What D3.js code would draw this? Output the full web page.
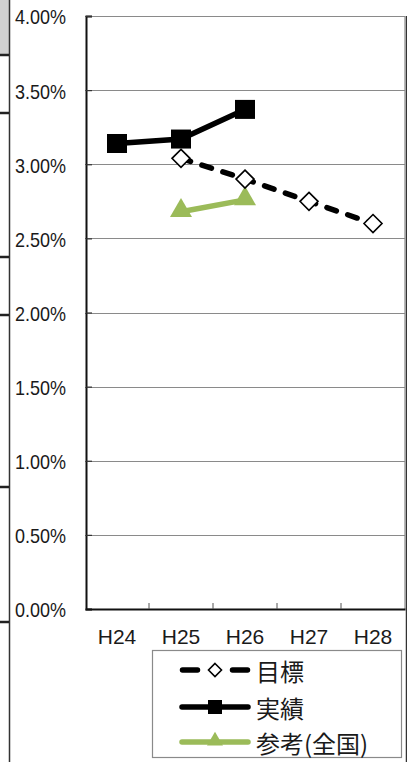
<!DOCTYPE html>
<html>
<head>
<meta charset="utf-8">
<script src="https://cdn.jsdelivr.net/npm/d3@7/dist/d3.min.js"></script>
<style>
  html, body { margin: 0; padding: 0; background: #fff; }
  svg { display: block; }
</style>
</head>
<body>
<script>
// Fiscal years (Heisei) on the horizontal axis
const categories = ["H24", "H25", "H26", "H27", "H28"];
// Target rate (目標), H25–H28
const targetYears = ["H25", "H26", "H27", "H28"];
const targetValues = [0.0304, 0.0290, 0.0275, 0.0260];
// Actual rate (実績), H24–H26
const actualYears = ["H24", "H25", "H26"];
const actualValues = [0.0314, 0.0317, 0.0337];
// National reference (参考(全国)), H25–H26
const nationalYears = ["H25", "H26"];
const nationalValues = [0.0268, 0.0276];
// Y axis ticks
const yTicks = [0, 0.005, 0.01, 0.015, 0.02, 0.025, 0.03, 0.035, 0.04];

const W = 407, H = 762;
const green = "#9bbb59";
const latin = "'Liberation Sans', Arial, sans-serif";
const cjk = "'Noto Sans CJK JP', 'Noto Sans CJK SC', sans-serif";

const svg = d3.select("body").append("svg").attr("width", W).attr("height", H);

const x = d3.scaleBand().domain(categories).range([85, 405]);
const y = d3.scaleLinear().domain([0, 0.04]).range([609, 16]);
const cx = d => x(d) + x.bandwidth() / 2;

// Frame of the surrounding table column on the left
svg.append("rect").attr("x", 0).attr("y", 0).attr("width", 9).attr("height", 54).attr("fill", "#d0d0d0");
svg.append("line").attr("x1", 9.5).attr("x2", 9.5).attr("y1", 0).attr("y2", H)
  .attr("stroke", "#333").attr("stroke-width", 1.5);
[55, 113, 257, 315, 487, 622].forEach(yy => {
  svg.append("line").attr("x1", 0).attr("x2", 9).attr("y1", yy).attr("y2", yy)
    .attr("stroke", "#222").attr("stroke-width", 2.5);
});
svg.append("line").attr("x1", 406.5).attr("x2", 406.5).attr("y1", 16).attr("y2", H)
  .attr("stroke", "#333").attr("stroke-width", 1.5);

// Gridlines
svg.append("g").selectAll("line").data(yTicks.filter(v => v > 0)).join("line")
  .attr("x1", 85).attr("x2", 405)
  .attr("y1", d => Math.round(y(d)) + 0.5).attr("y2", d => Math.round(y(d)) + 0.5)
  .attr("stroke", "#8a8a8a").attr("stroke-width", 1.2);

// Right plot border
svg.append("line").attr("x1", 405).attr("x2", 405).attr("y1", 16).attr("y2", 609)
  .attr("stroke", "#8a8a8a").attr("stroke-width", 1.2);

// Y axis
const yAxis = svg.append("g").attr("transform", "translate(86,0)")
  .call(d3.axisLeft(y).tickValues(yTicks).tickSize(-6).tickFormat(""));
yAxis.select(".domain").attr("stroke", "#111").attr("stroke-width", 2);
yAxis.selectAll(".tick line").attr("stroke", "#333").attr("stroke-width", 1.2);

// Y labels, slightly condensed
svg.append("g").attr("transform", "translate(66,0) scale(0.9,1)")
  .selectAll("text").data(yTicks).join("text")
  .attr("x", 0).attr("y", d => y(d) + 8.5)
  .attr("text-anchor", "end")
  .attr("font-family", latin).attr("font-size", 20).attr("fill", "#1a1a1a")
  .text(d => d3.format(".2%")(d));

// X axis with ticks between categories
const xAxis = svg.append("g").attr("transform", "translate(0,609)")
  .call(d3.axisBottom(x).tickSize(0).tickFormat(""));
xAxis.select(".domain").attr("stroke", "#111").attr("stroke-width", 2);
svg.append("g").selectAll("line").data(categories.slice(1)).join("line")
  .attr("x1", d => x(d)).attr("x2", d => x(d))
  .attr("y1", 609).attr("y2", 603)
  .attr("stroke", "#555").attr("stroke-width", 1);

svg.append("g").selectAll("text").data(categories).join("text")
  .attr("x", d => cx(d)).attr("y", 644)
  .attr("text-anchor", "middle")
  .attr("font-family", latin).attr("font-size", 21).attr("fill", "#1a1a1a")
  .text(d => d);

const line = d3.line().x(d => cx(d[0])).y(d => y(d[1]));

// National reference series (green, triangles)
const nat = d3.zip(nationalYears, nationalValues);
svg.append("path").attr("d", line(nat)).attr("fill", "none")
  .attr("stroke", green).attr("stroke-width", 5.5);

const tri = d3.symbol().type(d3.symbolTriangle).size(210);
svg.append("g").selectAll("path").data(nat).join("path")
  .attr("d", tri)
  .attr("transform", d => `translate(${cx(d[0])},${y(d[1]) - 1})`)
  .attr("fill", green);

// Target series (dashed, open diamonds)
const tgt = d3.zip(targetYears, targetValues);
svg.append("path").attr("d", line(tgt)).attr("fill", "none")
  .attr("stroke", "#000").attr("stroke-width", 5.5)
  .attr("stroke-dasharray", "10,12").attr("stroke-linecap", "round");

// Actual series (solid, filled squares)
const act = d3.zip(actualYears, actualValues);
svg.append("path").attr("d", line(act)).attr("fill", "none")
  .attr("stroke", "#000").attr("stroke-width", 5.5);

svg.append("g").selectAll("path").data(tgt).join("path")
  .attr("d", "M0,-9L9,0L0,9L-9,0Z")
  .attr("transform", d => `translate(${cx(d[0])},${y(d[1])})`)
  .attr("fill", "#fff").attr("stroke", "#000").attr("stroke-width", 1.6);

svg.append("g").selectAll("rect").data(act).join("rect")
  .attr("x", d => cx(d[0]) - 10).attr("y", d => y(d[1]) - 9.5)
  .attr("width", 20).attr("height", 19)
  .attr("fill", "#000");

// Legend
const lg = svg.append("g");
lg.append("rect").attr("x", 152.5).attr("y", 650.5).attr("width", 249).attr("height", 107)
  .attr("fill", "#fff").attr("stroke", "#8a8a8a").attr("stroke-width", 1.2);

const legendItems = [
  { label: "目標", y: 670, kind: "target" },
  { label: "実績", y: 707, kind: "actual" },
  { label: "参考(全国)", y: 742, kind: "national" }
];

legendItems.forEach(it => {
  if (it.kind === "target") {
    lg.append("line").attr("x1", 182.5).attr("x2", 247.5).attr("y1", it.y).attr("y2", it.y)
      .attr("stroke", "#000").attr("stroke-width", 5.5)
      .attr("stroke-dasharray", "15,35").attr("stroke-linecap", "round");
    lg.append("path").attr("d", "M0,-6.5L6.5,0L0,6.5L-6.5,0Z")
      .attr("transform", `translate(215,${it.y})`)
      .attr("fill", "#fff").attr("stroke", "#000").attr("stroke-width", 1.6);
  } else if (it.kind === "actual") {
    lg.append("line").attr("x1", 182).attr("x2", 248).attr("y1", it.y).attr("y2", it.y)
      .attr("stroke", "#000").attr("stroke-width", 5.5).attr("stroke-linecap", "round");
    lg.append("rect").attr("x", 208).attr("y", it.y - 7).attr("width", 14).attr("height", 14)
      .attr("fill", "#000");
  } else {
    lg.append("line").attr("x1", 182).attr("x2", 248).attr("y1", it.y).attr("y2", it.y)
      .attr("stroke", green).attr("stroke-width", 5.5).attr("stroke-linecap", "round");
    lg.append("path").attr("d", d3.symbol().type(d3.symbolTriangle).size(110))
      .attr("transform", `translate(215,${it.y - 1})`)
      .attr("fill", green);
  }
  lg.append("text").attr("x", 256).attr("y", it.y)
    .attr("dominant-baseline", "central")
    .attr("font-family", cjk).attr("font-size", 24).attr("fill", "#1a1a1a")
    .text(it.label);
});
</script>
</body>
</html>
